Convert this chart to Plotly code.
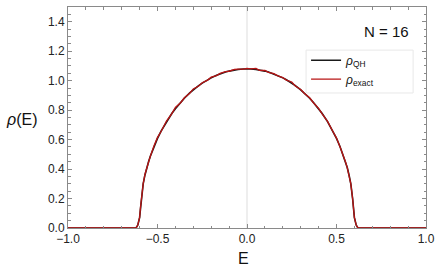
import plotly.graph_objects as go

# ---- data ----
E_vals = [-1.0, -0.62, -0.61, -0.60, -0.595, -0.59, -0.58, -0.57, -0.56, -0.55, -0.54,
          -0.52, -0.50, -0.48, -0.45, -0.42, -0.40, -0.37, -0.35, -0.32, -0.30,
          -0.27, -0.25, -0.22, -0.20, -0.17, -0.15, -0.12, -0.10, -0.07, -0.05,
          -0.02, 0.0,
          0.02, 0.05, 0.07, 0.10, 0.12, 0.15, 0.17, 0.20, 0.22, 0.25,
          0.27, 0.30, 0.32, 0.35, 0.37, 0.40, 0.42, 0.45, 0.48, 0.50,
          0.52, 0.54, 0.55, 0.56, 0.57, 0.58, 0.59, 0.595, 0.60, 0.61, 0.62, 1.0]

rho_qh = [0.0, 0.0, 0.02, 0.07, 0.13, 0.20, 0.30, 0.36, 0.41, 0.45, 0.487,
          0.552, 0.608, 0.657, 0.722, 0.777, 0.810, 0.854, 0.881, 0.917, 0.938,
          0.966, 0.983, 1.006, 1.019, 1.036, 1.046, 1.059, 1.065, 1.073, 1.076,
          1.079, 1.080,
          1.079, 1.076, 1.073, 1.065, 1.059, 1.046, 1.036, 1.019, 1.006, 0.983,
          0.966, 0.938, 0.917, 0.881, 0.854, 0.810, 0.777, 0.722, 0.657, 0.608,
          0.552, 0.487, 0.45, 0.41, 0.36, 0.30, 0.20, 0.13, 0.07, 0.02, 0.0, 0.0]

rho_exact = [0.0, 0.0, 0.02, 0.07, 0.14, 0.20, 0.30, 0.365, 0.41, 0.455, 0.487,
             0.556, 0.615, 0.655, 0.726, 0.776, 0.818, 0.852, 0.884, 0.915, 0.944,
             0.964, 0.986, 1.004, 1.024, 1.034, 1.049, 1.062, 1.064, 1.076, 1.079,
             1.078, 1.084,
             1.080, 1.083, 1.070, 1.069, 1.057, 1.048, 1.034, 1.021, 1.004, 0.991,
             0.964, 0.940, 0.915, 0.884, 0.852, 0.812, 0.775, 0.724, 0.655, 0.610,
             0.550, 0.489, 0.45, 0.41, 0.36, 0.30, 0.20, 0.13, 0.07, 0.02, 0.0, 0.0]

x_tickvals = [-1.0, -0.5, 0.0, 0.5, 1.0]
x_ticktext = ["\u22121.0", "\u22120.5", "0.0", "0.5", "1.0"]
y_tickvals = [0.0, 0.2, 0.4, 0.6, 0.8, 1.0, 1.2, 1.4]
y_ticktext = ["0.0", "0.2", "0.4", "0.6", "0.8", "1.0", "1.2", "1.4"]

FONT = "Liberation Sans, Arial, sans-serif"
FRAME = "#8a8a8a"

fig = go.Figure()
fig.add_trace(go.Scatter(x=E_vals, y=rho_qh, mode="lines",
                         name="<i>\u03c1</i><sub>QH</sub>",
                         line=dict(color="#1a1a1a", width=1.6)))
fig.add_trace(go.Scatter(x=E_vals, y=rho_exact, mode="lines",
                         name="<i>\u03c1</i><sub>exact</sub>",
                         line=dict(color="#b81414", width=1.3)))

fig.add_vline(x=0, line=dict(color="#dddddd", width=1), layer="below")

# legend frame (light box as in the reference)
fig.add_shape(type="rect", xref="paper", yref="paper",
              x0=0.665, x1=0.964, y0=0.611, y1=0.805,
              line=dict(color="#e8e8e8", width=1), fillcolor="white", layer="above")

axis_common = dict(showline=True, linecolor=FRAME, linewidth=1, mirror="ticks",
                   ticks="inside", tickcolor=FRAME, ticklen=4, showgrid=False,
                   zeroline=False, automargin=False,
                   tickfont=dict(family=FONT, size=12, color="#222"))

fig.update_xaxes(range=[-1, 1], tickvals=x_tickvals, ticktext=x_ticktext,
                 minor=dict(ticks="inside", dtick=0.1, ticklen=2.5, tickcolor=FRAME),
                 **axis_common)
fig.update_yaxes(range=[0, 1.5], tickvals=y_tickvals, ticktext=y_ticktext,
                 minor=dict(ticks="inside", dtick=0.05, ticklen=2.5, tickcolor=FRAME),
                 **axis_common)

fig.add_annotation(x=0.49, y=-0.136, xref="paper", yref="paper", text="E",
                   xanchor="center", yanchor="middle",
                   showarrow=False, font=dict(family=FONT, size=16, color="#111"))
fig.add_annotation(x=-0.178, y=0.49, xref="paper", yref="paper", text="<i>\u03c1</i>(E)",
                   xanchor="left", yanchor="middle",
                   showarrow=False, font=dict(family=FONT, size=16, color="#111"))
fig.add_annotation(x=0.89, y=0.887, xref="paper", yref="paper", text="N = 16",
                   xanchor="center", yanchor="middle",
                   showarrow=False, font=dict(family=FONT, size=15, color="#111"))

fig.update_layout(
    width=436, height=276,
    margin=dict(l=68, r=10, t=7, b=48),
    plot_bgcolor="white", paper_bgcolor="white",
    showlegend=True,
    legend=dict(x=0.665, y=0.825, xanchor="left", yanchor="top",
                bgcolor="rgba(0,0,0,0)", borderwidth=0,
                font=dict(family=FONT, size=12, color="#111"),
                itemwidth=30),
)

fig.write_html("out.html", config={"displayModeBar": False},
               post_script="document.body.style.margin='0';")
